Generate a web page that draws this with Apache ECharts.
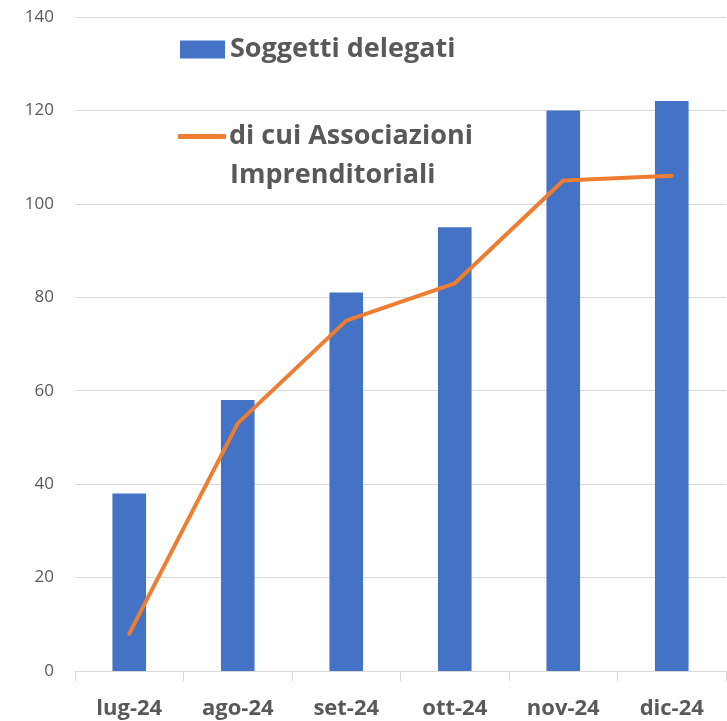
<!DOCTYPE html>
<html><head><meta charset="utf-8">
<script src="https://cdn.jsdelivr.net/npm/echarts@6/dist/echarts.min.js"></script>
<style>html,body{margin:0;padding:0;background:#fff}#c{width:727px;height:721px}</style>
</head><body><div id="c"></div>
<script>
const categories = ['lug-24','ago-24','set-24','ott-24','nov-24','dic-24'];
const soggettiDelegati = [38, 58, 81, 95, 120, 122];
const associazioni = [8, 53, 75, 83, 105, 106];
const yTicks = [0, 20, 40, 60, 80, 100, 120, 140];
const barName = 'Soggetti delegati';
const lineName = 'di cui Associazioni Imprenditoriali';
const lineNameL1 = 'di cui Associazioni';
const lineNameL2 = 'Imprenditoriali';

const FONT = '"Open Sans", Lato, sans-serif';
const chart = echarts.init(document.getElementById('c'), null, {renderer:'canvas'});
chart.setOption({
  animation: false,
  grid: {left: 75, right: 1, top: 17, bottom: 50},
  legend: [
    {data: [{name: barName, icon: 'rect'}], left: 180, top: 36, padding: 0, itemWidth: 45, itemHeight: 18, itemGap: 0,
     textStyle: {fontFamily: FONT, fontWeight: 'bold', fontSize: 27, color: '#595959'}},
    {data: [{name: lineName, icon: 'roundRect'}], left: 178, top: 123, padding: 0, itemWidth: 48, itemHeight: 5, itemGap: 0,
     formatter: () => lineNameL1,
     textStyle: {fontFamily: FONT, fontWeight: 'bold', fontSize: 27, color: '#595959', padding: [0,0,0,-2]}}
  ],
  graphic: [
    {type: 'text', x: 230, y: 175, style: {text: lineNameL2, font: 'bold 27px ' + FONT, fill: '#595959', verticalAlign: 'middle'}}
  ],
  xAxis: {
    type: 'category', data: categories, boundaryGap: true,
    axisLine: {lineStyle: {color: '#d9d9d9', width: 1}},
    axisTick: {show: true, length: 10, lineStyle: {color: '#d9d9d9'}},
    axisLabel: {fontFamily: FONT, fontWeight: 'bold', fontSize: 22, color: '#595959', margin: 27}
  },
  yAxis: {
    type: 'value', min: 0, max: 140, interval: 20,
    axisLine: {show: false}, axisTick: {show: false},
    splitLine: {lineStyle: {color: '#d9d9d9', width: 1}},
    axisLabel: {fontFamily: FONT, fontSize: 17, color: '#595959', margin: 21,
      formatter: v => yTicks.includes(v) ? String(v) : ''}
  },
  series: [
    {name: barName, type: 'bar', data: soggettiDelegati, barWidth: '31%', itemStyle: {color: '#4472C4'}},
    {name: lineName, type: 'line', data: associazioni, symbol: 'none', smooth: false,
     lineStyle: {color: '#ED7D31', width: 4, cap: 'round'}, itemStyle: {color: '#ED7D31'}}
  ]
});
</script></body></html>
